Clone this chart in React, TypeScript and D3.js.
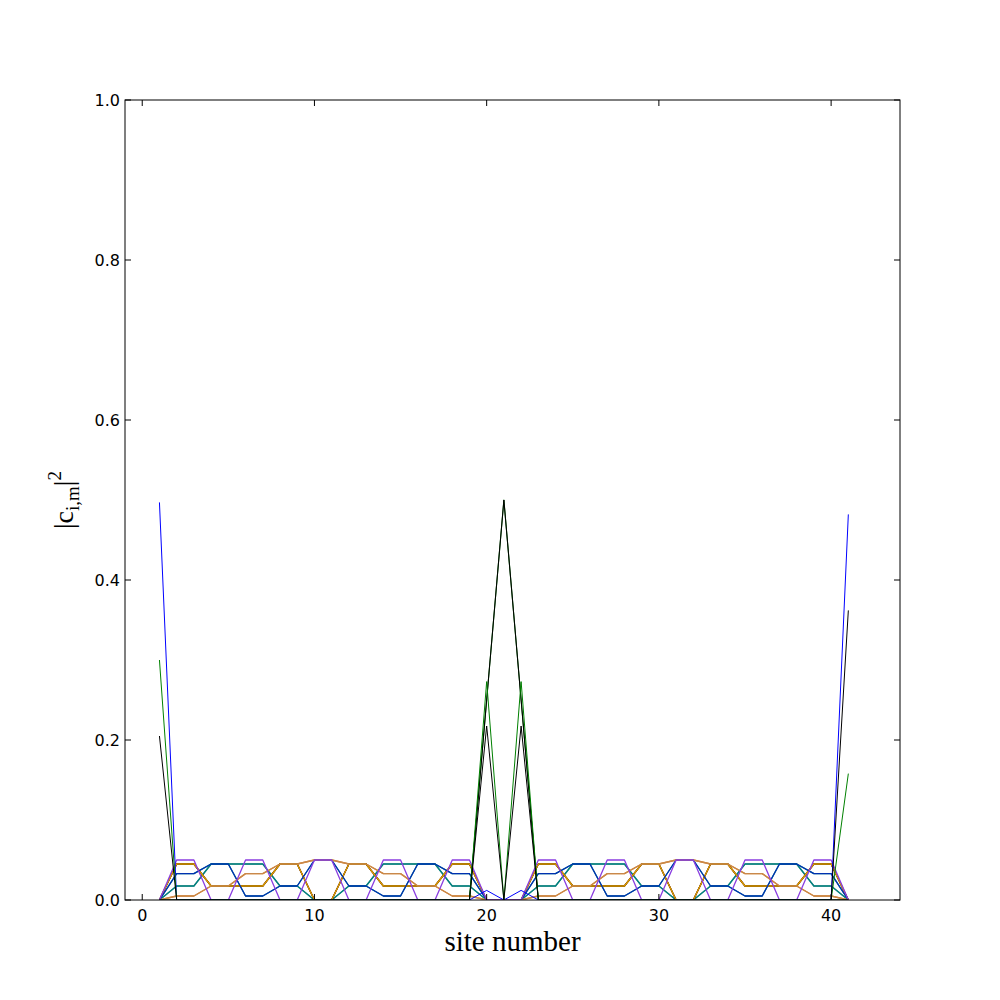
import React from "react";
import * as d3 from "d3";

// site numbers 1..41
const sites: number[] = [
  1, 2, 3, 4, 5, 6, 7, 8, 9, 10, 11, 12, 13, 14, 15, 16, 17, 18, 19, 20, 21,
  22, 23, 24, 25, 26, 27, 28, 29, 30, 31, 32, 33, 34, 35, 36, 37, 38, 39, 40, 41,
];

// bulk states (values read per site, sites 1..41)
const bulkK1: number[] = [
  0, 0.005, 0.005, 0.0175, 0.0175, 0.033, 0.033, 0.045, 0.045, 0.05, 0.05, 0.045, 0.045, 0.033, 0.033, 0.0175, 0.0175, 0.005, 0.005, 0,
  0,
  0, 0.005, 0.005, 0.0175, 0.0175, 0.033, 0.033, 0.045, 0.045, 0.05, 0.05, 0.045, 0.045, 0.033, 0.033, 0.0175, 0.0175, 0.005, 0.005, 0,
];
const bulkK2: number[] = [
  0, 0.0175, 0.0175, 0.045, 0.045, 0.045, 0.045, 0.0175, 0.0175, 0, 0, 0.0175, 0.0175, 0.045, 0.045, 0.045, 0.045, 0.0175, 0.0175, 0,
  0,
  0, 0.0175, 0.0175, 0.045, 0.045, 0.045, 0.045, 0.0175, 0.0175, 0, 0, 0.0175, 0.0175, 0.045, 0.045, 0.045, 0.045, 0.0175, 0.0175, 0,
];
const bulkK3: number[] = [
  0, 0.033, 0.033, 0.045, 0.045, 0.005, 0.005, 0.0175, 0.0175, 0.05, 0.05, 0.0175, 0.0175, 0.005, 0.005, 0.045, 0.045, 0.033, 0.033, 0,
  0,
  0, 0.033, 0.033, 0.045, 0.045, 0.005, 0.005, 0.0175, 0.0175, 0.05, 0.05, 0.0175, 0.0175, 0.005, 0.005, 0.045, 0.045, 0.033, 0.033, 0,
];
const bulkK4: number[] = [
  0, 0.045, 0.045, 0.0175, 0.0175, 0.0175, 0.0175, 0.045, 0.045, 0, 0, 0.045, 0.045, 0.0175, 0.0175, 0.0175, 0.0175, 0.045, 0.045, 0,
  0,
  0, 0.045, 0.045, 0.0175, 0.0175, 0.0175, 0.0175, 0.045, 0.045, 0, 0, 0.045, 0.045, 0.0175, 0.0175, 0.0175, 0.0175, 0.045, 0.045, 0,
];
const bulkK5: number[] = [
  0, 0.05, 0.05, 0, 0, 0.05, 0.05, 0, 0, 0.05, 0.05, 0, 0, 0.05, 0.05, 0, 0, 0.05, 0.05, 0,
  0,
  0, 0.05, 0.05, 0, 0, 0.05, 0.05, 0, 0, 0.05, 0.05, 0, 0, 0.05, 0.05, 0, 0, 0.05, 0.05, 0,
];

// centre trimer states
const trimerA: number[] = [
  0, 0, 0, 0, 0, 0, 0, 0, 0, 0, 0, 0, 0, 0, 0, 0, 0, 0, 0, 0.25,
  0.5,
  0.25, 0, 0, 0, 0, 0, 0, 0, 0, 0, 0, 0, 0, 0, 0, 0, 0, 0, 0, 0,
];
const trimerB: number[] = [
  0, 0, 0, 0, 0, 0, 0, 0, 0, 0, 0, 0, 0, 0, 0, 0, 0, 0, 0, 0.25,
  0.5,
  0.25, 0, 0, 0, 0, 0, 0, 0, 0, 0, 0, 0, 0, 0, 0, 0, 0, 0, 0, 0,
];

// edge / centre hybrid states
const edgeBlue: number[] = [
  0.497, 0, 0, 0, 0, 0, 0, 0, 0, 0, 0, 0, 0, 0, 0, 0, 0, 0, 0, 0.012,
  0,
  0.012, 0, 0, 0, 0, 0, 0, 0, 0, 0, 0, 0, 0, 0, 0, 0, 0, 0, 0, 0.482,
];
const edgeGreen: number[] = [
  0.3, 0, 0, 0, 0, 0, 0, 0, 0, 0, 0, 0, 0, 0, 0, 0, 0, 0, 0, 0.273,
  0,
  0.273, 0, 0, 0, 0, 0, 0, 0, 0, 0, 0, 0, 0, 0, 0, 0, 0, 0, 0, 0.158,
];
const edgeBlack: number[] = [
  0.205, 0, 0, 0, 0, 0, 0, 0, 0, 0, 0, 0, 0, 0, 0, 0, 0, 0, 0, 0.2175,
  0,
  0.2175, 0, 0, 0, 0, 0, 0, 0, 0, 0, 0, 0, 0, 0, 0, 0, 0, 0, 0, 0.362,
];

const xTicks: number[] = [0, 10, 20, 30, 40];
const yTicks: number[] = [0, 0.2, 0.4, 0.6, 0.8, 1.0];

const series: { values: number[]; color: string; w: number }[] = [
  { values: bulkK2, color: "#5f9e8f", w: 1.3 },
  { values: bulkK2, color: "#008080", w: 1.3 },
  { values: bulkK1, color: "#e08020", w: 1.3 },
  { values: bulkK3, color: "#008b8b", w: 1.3 },
  { values: bulkK4, color: "#cc2200", w: 1.3 },
  { values: bulkK4, color: "#000000", w: 1.3 },
  { values: bulkK4, color: "#e0a000", w: 1.3 },
  { values: bulkK3, color: "#0030b0", w: 1.3 },
  { values: bulkK1, color: "#c8884a", w: 1.3 },
  { values: bulkK5, color: "#8a3ee0", w: 1.3 },
  { values: trimerA, color: "#006400", w: 1.1 },
  { values: trimerB, color: "#000000", w: 1.0 },
  { values: edgeBlue, color: "#0000ff", w: 1.0 },
  { values: edgeGreen, color: "#008000", w: 1.0 },
  { values: edgeBlack, color: "#000000", w: 1.0 },
];

export default function App() {
  const W = 1000, H = 1000;
  const L = 125, R = 900, T = 100, B = 900;
  const x = d3.scaleLinear().domain([-1, 44]).range([L, R]);
  const y = d3.scaleLinear().domain([0, 1]).range([B, T]);
  const line = d3
    .line<number>()
    .x((_, i) => x(sites[i]))
    .y((d) => y(d));
  const tl = 6;
  return (
    <svg width={W} height={H} style={{ display: "block", position: "absolute", left: 0, top: 0 }}>
      <rect x={0} y={0} width={W} height={H} fill="#fff" />
      <defs>
        <clipPath id="ax">
          <rect x={L} y={T} width={R - L} height={B - T} />
        </clipPath>
      </defs>
      <g clipPath="url(#ax)">
        {series.map((s, i) => (
          <path key={i} d={line(s.values) || ""} fill="none" stroke={s.color} strokeWidth={s.w} strokeLinejoin="round" />
        ))}
      </g>
      <rect x={L} y={T} width={R - L} height={B - T} fill="none" stroke="#000" strokeWidth={1} />
      {xTicks.map((t) => (
        <g key={"x" + t}>
          <line x1={x(t)} x2={x(t)} y1={B} y2={B - tl} stroke="#000" />
          <line x1={x(t)} x2={x(t)} y1={T} y2={T + tl} stroke="#000" />
          <text x={x(t)} y={B + 21} textAnchor="middle" fontFamily="DejaVu Sans" fontSize={16}>
            {t}
          </text>
        </g>
      ))}
      {yTicks.map((t) => (
        <g key={"y" + t}>
          <line x1={L} x2={L + tl} y1={y(t)} y2={y(t)} stroke="#000" />
          <line x1={R} x2={R - tl} y1={y(t)} y2={y(t)} stroke="#000" />
          <text x={L - 5} y={y(t) + 6} textAnchor="end" fontFamily="DejaVu Sans" fontSize={16}>
            {t.toFixed(1)}
          </text>
        </g>
      ))}
      <text x={(L + R) / 2} y={951} textAnchor="middle" fontFamily="Liberation Serif" fontSize={29}>
        site number
      </text>
      <text
        transform={`translate(73,${(T + B) / 2}) rotate(-90)`}
        textAnchor="middle"
        fontFamily="Liberation Serif"
        fontSize={28}
      >
        |c
        <tspan fontSize={19} dy={6}>i,m</tspan>
        <tspan dy={-6}>|</tspan>
        <tspan fontSize={19} dy={-12}>2</tspan>
      </text>
    </svg>
  );
}
